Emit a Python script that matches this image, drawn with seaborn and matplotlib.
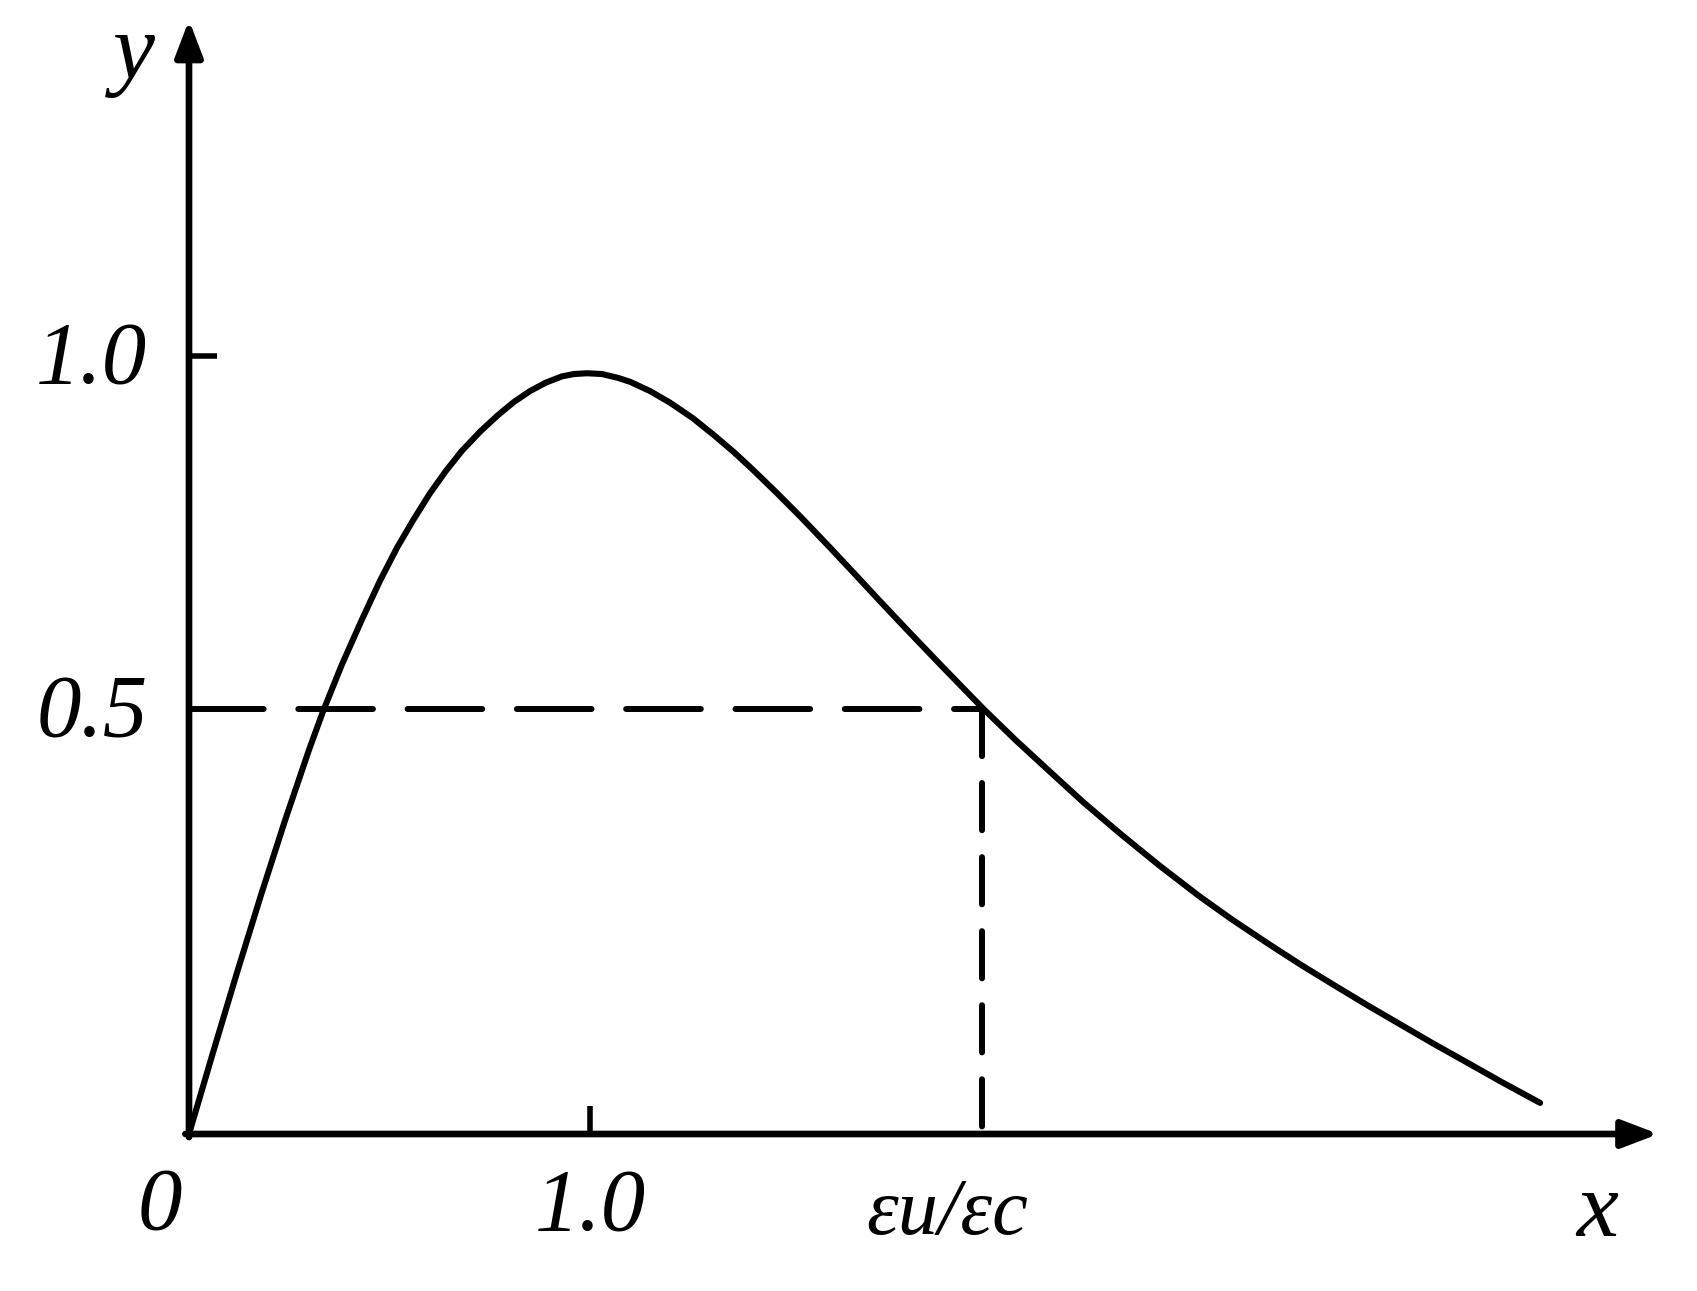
import matplotlib
matplotlib.use("Agg")
import matplotlib.pyplot as plt
import matplotlib.transforms as mtransforms
import seaborn as sns

# ---- data (x in units of eps/eps_c, y in units of the 1.0 tick) ----
curve_x = [0.0, 0.06, 0.12, 0.18, 0.24, 0.30, 0.334, 0.38, 0.43, 0.476, 0.519, 0.56,
           0.60, 0.64, 0.68, 0.726, 0.77, 0.81, 0.85, 0.89, 0.93, 0.96, 0.993, 1.03,
           1.07, 1.10, 1.15, 1.20, 1.257, 1.31, 1.36, 1.406, 1.466, 1.524, 1.60, 1.66,
           1.723, 1.80, 1.88, 1.98, 2.06, 2.14, 2.229, 2.32, 2.42, 2.521, 2.60, 2.69,
           2.771, 2.85, 2.94, 3.02, 3.10, 3.19, 3.269, 3.369]
curve_y = [0.0, 0.105, 0.208, 0.308, 0.404, 0.495, 0.543, 0.602, 0.660, 0.711, 0.754, 0.790,
           0.823, 0.852, 0.878, 0.903, 0.924, 0.941, 0.955, 0.966, 0.974, 0.977, 0.978, 0.977,
           0.972, 0.967, 0.955, 0.940, 0.920, 0.898, 0.876, 0.854, 0.824, 0.794, 0.753, 0.720,
           0.685, 0.643, 0.600, 0.547, 0.507, 0.469, 0.427, 0.387, 0.345, 0.305, 0.276, 0.245,
           0.218, 0.193, 0.165, 0.141, 0.117, 0.091, 0.068, 0.040]
x_tick_pos = [1.0]
x_tick_labels = ["1.0"]
y_tick_pos = [0.546, 1.0]
y_tick_labels = ["0.5", "1.0"]
strain_ratio = 1.978      # position of eps_u/eps_c
half_level = 0.546        # level of the "0.5" guide line
x_lim_max = 3.653
y_lim_max = 1.427
x_arrow_end = 3.664
y_arrow_end = 1.432

sns.set_theme(style="white")
plt.rcParams['font.family'] = ['Liberation Serif', 'DejaVu Serif']
plt.rcParams['font.style'] = 'italic'
plt.rcParams['text.color'] = 'black'

W, H = 1697, 1291
fig = plt.figure(figsize=(W / 100, H / 100), dpi=100)
fig.patch.set_facecolor("white")
ax = fig.add_axes([189 / W, (H - 1134) / H, (1654 - 189) / W, (1134 - 24) / H])
ax.set_xlim(0, x_lim_max)
ax.set_ylim(0, y_lim_max)
for s in ax.spines.values():
    s.set_visible(False)
ax.patch.set_alpha(0)

# axes with arrow heads
arrow_style = "-|>,head_length=1.1,head_width=0.42"
ax.annotate("", xy=(x_arrow_end, 0), xytext=(-0.009, 0), annotation_clip=False,
            arrowprops=dict(arrowstyle=arrow_style, lw=4.8, color="black",
                            shrinkA=0, shrinkB=0, mutation_scale=20))
ax.annotate("", xy=(0, y_arrow_end), xytext=(0, -0.004), annotation_clip=False,
            arrowprops=dict(arrowstyle=arrow_style, lw=4.8, color="black",
                            shrinkA=0, shrinkB=0, mutation_scale=20))

# dashed guide lines
ax.plot([0, strain_ratio], [half_level, half_level], color="black", lw=4.3,
        dashes=(12.5, 5.8), dash_capstyle="round", clip_on=False)
ax.plot([strain_ratio, strain_ratio], [half_level, 0], color="black", lw=4.3,
        dashes=(7.9, 4.5), dash_capstyle="round", clip_on=False)

# main curve
sns.lineplot(x=curve_x, y=curve_y, ax=ax, color="black", lw=4.4, sort=False,
             estimator=None, legend=False)
ax.lines[-1].set_solid_capstyle("round")
ax.lines[-1].set_solid_joinstyle("round")

# ticks
ax.set_xticks(x_tick_pos, x_tick_labels)
ax.set_yticks(y_tick_pos, y_tick_labels)
ax.tick_params(axis="x", bottom=True, direction="in", length=20, width=4, color="black",
               labelsize=64, pad=24, labelcolor="black")
ax.tick_params(axis="y", left=True, direction="in", length=20, width=4, color="black",
               labelsize=64, pad=30, labelcolor="black")
ax.yaxis.get_major_ticks()[0].tick1line.set_visible(False)
shift = mtransforms.ScaledTranslation(0, 3.5 / 72, fig.dpi_scale_trans)
for lab in ax.get_yticklabels():
    lab.set_transform(lab.get_transform() + shift)
ax.grid(False)

# other labels
ax.text(-0.072, -0.121, "0", fontsize=64, color="black", ha="center", va="baseline", clip_on=False)
ax.text(1.890, -0.1285, "εu/εc", fontsize=58, color="black", ha="center", va="baseline", clip_on=False)
ax.text(3.511, -0.131, "x", fontsize=68, color="black", ha="center", va="baseline", clip_on=False)
ax.text(-0.138, 1.357, "y", fontsize=68, color="black", ha="center", va="baseline", clip_on=False)

fig.savefig("out.png", dpi=100, facecolor="white")
